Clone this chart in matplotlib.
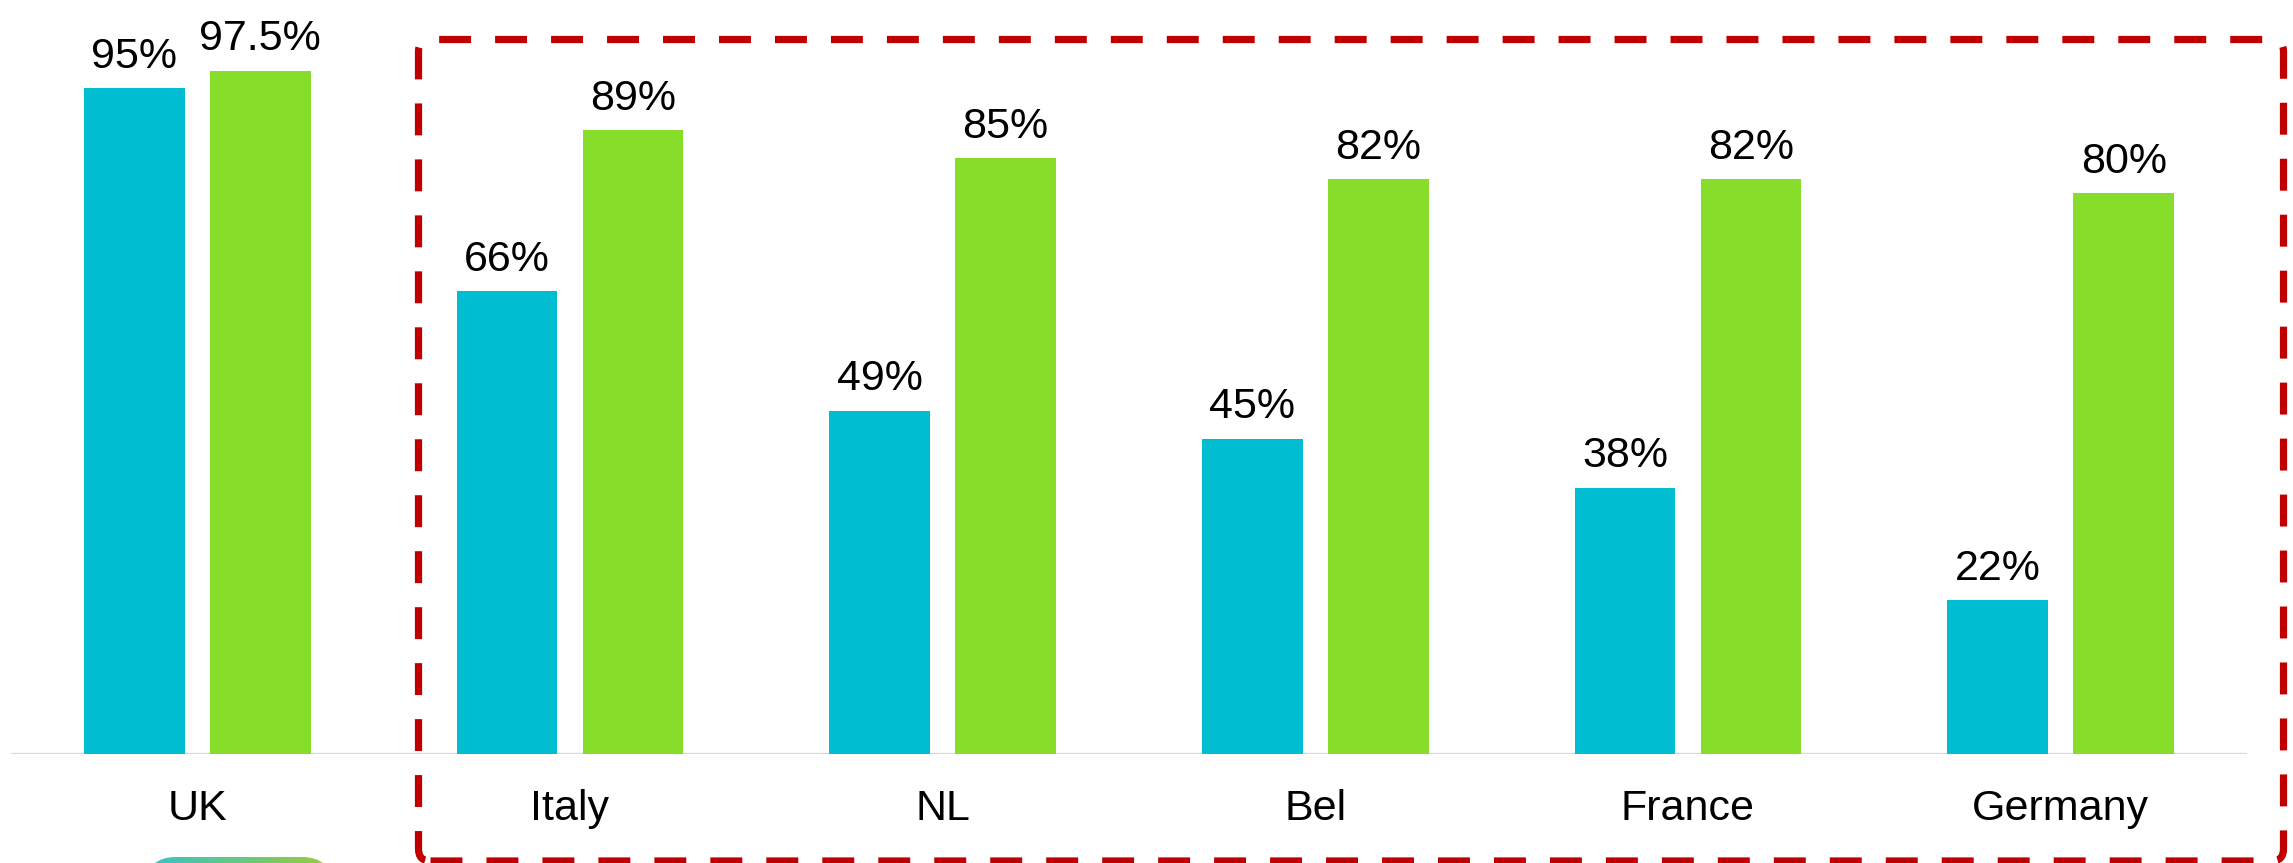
import numpy as np
import matplotlib
matplotlib.use('Agg')
import matplotlib.pyplot as plt
from matplotlib.patches import FancyBboxPatch

plt.rcParams['font.family'] = ['Liberation Sans', 'DejaVu Sans']
plt.rcParams['lines.scale_dashes'] = False

# data
countries = ['UK', 'Italy', 'NL', 'Bel', 'France', 'Germany']
series_a = [95, 66, 49, 45, 38, 22]
series_b = [97.5, 89, 85, 82, 82, 80]

color_a = '#00BDD1'
color_b = '#86DE2A'

W, H = 2293, 863
fig = plt.figure(figsize=(W / 100, H / 100), dpi=100)
fig.set_facecolor('white')

# main bar axes (pixel layout)
base_px = 754
px_per_pct = 7.01
ax = fig.add_axes([11 / W, (H - base_px) / H, (2247 - 11) / W, base_px / H])
ax.set_facecolor('none')

x = np.arange(len(countries))
bw = 0.27
off = 0.169
bars_a = ax.bar(x - off, series_a, width=bw, color=color_a, zorder=2)
bars_b = ax.bar(x + off, series_b, width=bw, color=color_b, zorder=2)

for bars, vals in [(bars_a, series_a), (bars_b, series_b)]:
    for b, v in zip(bars, vals):
        ax.annotate(f'{v:g}%', xy=(b.get_x() + b.get_width() / 2, v),
                    xytext=(0, 14.5), textcoords='offset points',
                    ha='center', va='baseline', fontsize=31, color='black')

for i, c in enumerate(countries):
    ax.annotate(c, xy=(i, 0), xytext=(0, -47.5), textcoords='offset points',
                ha='center', va='baseline', fontsize=31, color='black',
                annotation_clip=False)

ax.set_xlim(-0.5, 5.5)
ax.set_ylim(0, base_px / px_per_pct)
ax.axhline(0, color='#D9D9D9', linewidth=1.6, zorder=1)
for s in ax.spines.values():
    s.set_visible(False)
ax.set_xticks([])
ax.set_yticks([])

# overlay in pixel units for the dashed frame and the gradient pill
ov = fig.add_axes([0, 0, 1, 1])
ov.set_xlim(0, W)
ov.set_ylim(0, H)
ov.axis('off')
ov.set_facecolor('none')

frame = FancyBboxPatch((418.5, H - 861), 2283.5 - 418.5, 861 - 39.5,
                       boxstyle='round,pad=0,rounding_size=12',
                       facecolor='none', edgecolor='#C00000', linewidth=5.2,
                       linestyle=(0, (23, 17.3)))
ov.add_patch(frame)

pill = FancyBboxPatch((146, -60), 332 - 146, 66,
                      boxstyle='round,pad=0,rounding_size=30',
                      facecolor='none', edgecolor='none')
ov.add_patch(pill)
grad = np.linspace(0, 1, 256).reshape(1, -1)
cmap = matplotlib.colors.LinearSegmentedColormap.from_list('pill', ['#38C2C8', '#9ACC3C'])
im = ov.imshow(grad, cmap=cmap, extent=(146, 332, -60, 6), aspect='auto')
im.set_clip_path(pill)
ov.set_xlim(0, W)
ov.set_ylim(0, H)

fig.savefig('out.png', dpi=100, facecolor='white')
